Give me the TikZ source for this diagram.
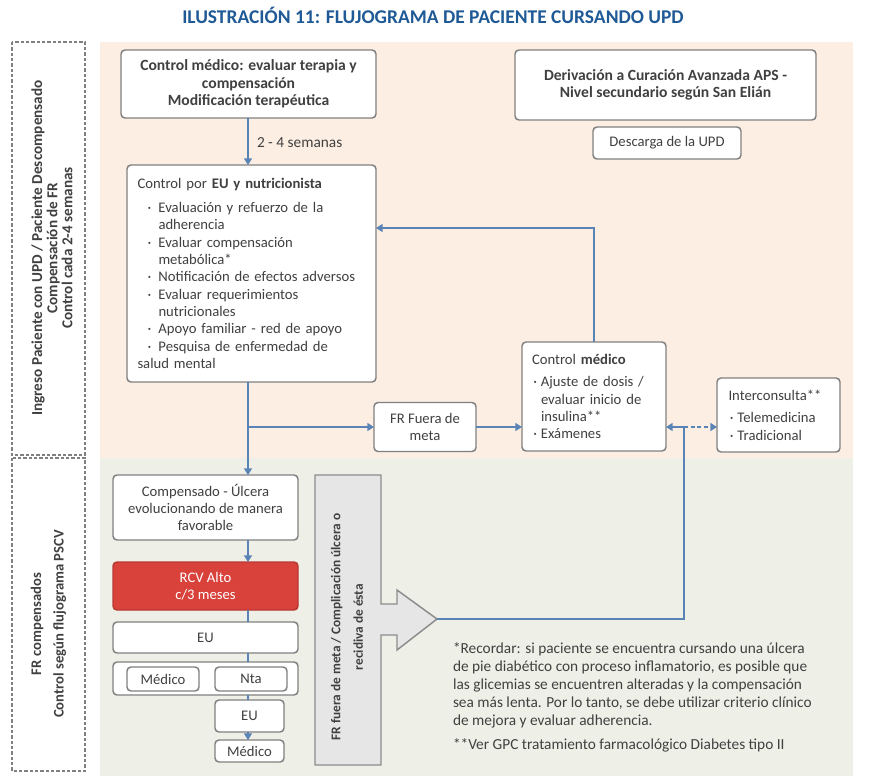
\documentclass[tikz,border=0pt]{standalone}
\usepackage{fontspec}
\setmainfont{Carlito}
\usetikzlibrary{arrows.meta}
\definecolor{titleblue}{HTML}{1F5A96}
\definecolor{lineblue}{HTML}{5A84B6}
\definecolor{boxgray}{HTML}{808080}
\definecolor{txtgray}{HTML}{404040}
\definecolor{peach}{HTML}{FCEEE3}
\definecolor{greenbg}{HTML}{EEF0E7}
\definecolor{rcvred}{HTML}{D8423B}
\definecolor{arrowfill}{HTML}{E6E6E6}
\definecolor{arrowline}{HTML}{8C8C8C}
\newcommand{\bitem}[1]{\par\hangindent=15.75pt\hangafter=1\noindent\hspace*{7.5pt}\makebox[8.25pt][l]{·}#1}
\newcommand{\citem}[1]{\par\hangindent=6.75pt\hangafter=1\noindent\hspace*{1pt}\makebox[5.75pt][l]{·}#1}
\begin{document}
\begin{tikzpicture}[x=0.75pt,y=-0.75pt,
  every node/.style={text=txtgray, inner sep=0pt, outer sep=0pt},
  box/.style={draw=boxgray, line width=1.1pt, rounded corners=3pt, fill=white,
    font={\fontsize{11}{13}\selectfont}},
  bbox/.style={box, font={\fontsize{11.7}{13}\selectfont\bfseries}},
  lbl/.style={font={\fontsize{11.5}{13}\selectfont}},
  conn/.style={draw=lineblue, line width=1.1pt},
  arr/.style={conn, -{Triangle[width=6pt,length=5pt]}},
  sidebox/.style={draw=boxgray, line width=0.8pt, dash pattern=on 2.5pt off 1.5pt}
]
\useasboundingbox (0,0) rectangle (869,783);
% backgrounds
\fill[peach] (100,42) rectangle (853,458);
\fill[greenbg] (100,458) rectangle (853,776);
% title
\node[font={\fontsize{14.6}{16}\selectfont\bfseries}, text=titleblue] (title) at (433,15) {ILUSTRACIÓN 11: FLUJOGRAMA DE PACIENTE CURSANDO UPD};
% side boxes
\draw[sidebox] (12,42) rectangle (85,455);
\draw[sidebox] (12,458) rectangle (85,771);
\node[rotate=90, align=center, font={\fontsize{11.4}{11.3}\selectfont\bfseries}] (side1) at (52,248)
  {Ingreso Paciente con UPD / Paciente Descompensado\\Compensación de FR\\Control cada 2-4 semanas};
\node[rotate=90, align=center, font={\fontsize{11}{17}\selectfont\bfseries}] (side2) at (48.5,624)
  {FR compensados\\Control según flujograma PSCV};
% top boxes
\node[bbox, minimum width=191.25pt, minimum height=51pt, align=center] (b1) at (248.5,84)
  {Control médico: evaluar terapia y\\compensación\\Modificación terapéutica};
\node[bbox, minimum width=225.75pt, minimum height=52.5pt, align=center] (der) at (665.5,85)
  {Derivación a Curación Avanzada APS -\\Nivel secundario según San Elián};
\node[box, minimum width=111pt, minimum height=24pt, align=center] (desc) at (667,143) {Descarga de la UPD};
\node[lbl, anchor=west] (sem) at (257,143) {2 - 4 semanas};
\node[box, minimum width=186.75pt, minimum height=162.75pt, text width=171pt, align=left] (eu) at (251.5,273.5)
  {Control por \textbf{EU y nutricionista}\par\vspace{5pt}%
   \bitem{Evaluación y refuerzo de la\newline adherencia}%
   \bitem{Evaluar compensación\newline metabólica*}%
   \bitem{Notificación de efectos adversos}%
   \bitem{Evaluar requerimientos\newline nutricionales}%
   \bitem{Apoyo familiar - red de apoyo}%
   \bitem{Pesquisa de enfermedad de\newline salud mental}};
\node[box, minimum width=76.5pt, minimum height=36.75pt, align=center] (fr) at (425,427) {FR Fuera de\\meta};
\node[box, minimum width=108pt, minimum height=81.75pt, text width=93pt, align=left] (cm) at (594,396.5)
  {Control \textbf{médico}\par\vspace{4pt}%
   \citem{Ajuste de dosis /\newline evaluar inicio de\newline insulina**}%
   \citem{Exámenes}};
\node[box, minimum width=92.25pt, minimum height=55.5pt, text width=75pt, align=left] (ic) at (778.5,415)
  {Interconsulta**\par\vspace{4pt}%
   \citem{Telemedicina}%
   \citem{Tradicional}};
% bottom left column
\node[box, minimum width=138.75pt, minimum height=48.75pt, align=center] (comp) at (205.5,507.5)
  {Compensado - Úlcera\\evolucionando de manera\\favorable};
\node[box, draw=rcvred!85!black, fill=rcvred, text=white, minimum width=138.75pt, minimum height=36pt, align=center] (rcv) at (205.5,586)
  {RCV Alto\\c/3 meses};
\node[box, minimum width=138.75pt, minimum height=23.25pt] (eu2) at (205.5,637.5) {EU};
\node[box, minimum width=138.75pt, minimum height=24.75pt] (cont) at (205.5,678.5) {};
\node[box, minimum width=54pt, minimum height=18pt] (med1) at (163,679) {Médico};
\node[box, minimum width=54pt, minimum height=18pt] (nta) at (251,679) {Nta};
\node[box, minimum width=51.75pt, minimum height=24pt] (eu3) at (249.5,716) {EU};
\node[box, minimum width=51.75pt, minimum height=16.5pt] (med2) at (249.5,751) {Médico};
% big arrow
\draw[draw=arrowline, fill=arrowfill, line width=1.1pt]
  (315,475) -- (381,475) -- (381,604) -- (397,604) -- (397,590) -- (437,619)
  -- (397,650) -- (397,635) -- (381,635) -- (381,765) -- (315,765) -- cycle;
\coordinate (tip) at (437,619);
\node[rotate=90, align=center, font={\fontsize{10}{17}\selectfont\bfseries}] (bigtxt) at (347,627)
  {FR fuera de meta / Complicación úlcera o\\recidiva de ésta};
% notes
\node[anchor=north west, align=left, font={\fontsize{11.5}{13.5}\selectfont}] (note1) at (453,643)
  {*Recordar: si paciente se encuentra cursando una úlcera\\
   de pie diabético con proceso inflamatorio, es posible que\\
   las glicemias se encuentren alteradas y la compensación\\
   sea más lenta. Por lo tanto, se debe utilizar criterio clínico\\
   de mejora y evaluar adherencia.};
\node[anchor=north west, align=left, font={\fontsize{11.5}{13.5}\selectfont}] (note2) at (453,739)
  {**Ver GPC tratamiento farmacológico Diabetes tipo II};
% connectors
\coordinate (cx) at (248,0);
\coordinate (j1) at (248,427);
\coordinate (loopy) at (0,228);
\coordinate (j2) at (684,427);
\draw[arr] (b1.south -| cx) -- (eu.north -| cx);
\draw[arr] (eu.south -| cx) -- (comp.north -| cx);
\draw[arr] (j1) -- (j1 -| fr.west);
\draw[arr] (fr.east) -- (fr.east -| cm.west);
\draw[arr] (cm.north) |- (loopy -| eu.east);
\draw[conn] (tip) -| (j2);
\draw[arr] (j2) -- (j2 -| cm.east);
\draw[arr, dash pattern=on 3pt off 2pt] (j2) -- (j2 -| ic.west);
\draw[arr] (comp.south -| cx) -- (rcv.north -| cx);
\draw[conn] (rcv.south -| cx) -- (eu2.north -| cx);
\draw[conn] (eu2.south -| cx) -- (cont.north -| cx);
\draw[conn] (cont.south -| cx) -- (eu3.north -| cx);
\draw[arr] (eu3.south -| cx) -- (med2.north -| cx);
\end{tikzpicture}
\end{document}
